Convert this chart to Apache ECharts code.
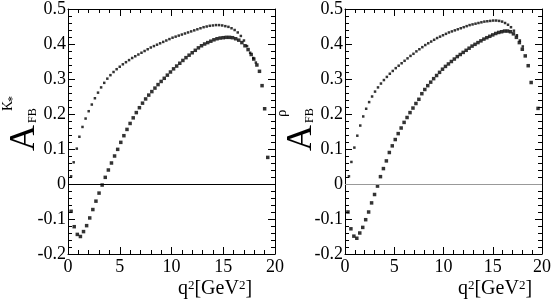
<!DOCTYPE html>
<html>
<head>
<meta charset="utf-8">
<script src="https://cdn.jsdelivr.net/npm/echarts@6/dist/echarts.min.js"></script>
<style>
  html, body { margin: 0; padding: 0; background: #fff; }
  #chart { width: 554px; height: 304px; }
</style>
</head>
<body>
<div id="chart"></div>
<script>
// K* panel, upper curve (small dots)
const kUpQ = [0.3, 0.55, 0.85, 1.1, 1.4, 1.7, 2.0, 2.3, 2.6, 2.9, 3.2, 3.5, 3.8, 4.1, 4.4, 4.7, 5.0, 5.3, 5.6, 5.9, 6.2, 6.5, 6.8, 7.1, 7.4, 7.7, 8.0, 8.3, 8.6, 8.9, 9.2, 9.5, 9.8, 10.1, 10.4, 10.7, 11.0, 11.3, 11.6, 11.9, 12.2, 12.5, 12.8, 13.1, 13.4, 13.7, 14.0, 14.3, 14.6, 14.9, 15.2, 15.5, 15.8, 16.1, 16.4, 16.7, 17.0, 17.3, 17.6, 17.9, 18.15];
const kUpA = [0.022, 0.062, 0.101, 0.135, 0.163, 0.187, 0.208, 0.227, 0.245, 0.261, 0.276, 0.289, 0.301, 0.311, 0.320, 0.328, 0.335, 0.342, 0.348, 0.354, 0.360, 0.365, 0.370, 0.375, 0.380, 0.385, 0.390, 0.394, 0.398, 0.402, 0.406, 0.410, 0.414, 0.418, 0.421, 0.424, 0.427, 0.430, 0.433, 0.436, 0.439, 0.442, 0.445, 0.448, 0.450, 0.452, 0.453, 0.454, 0.454, 0.453, 0.451, 0.449, 0.445, 0.440, 0.433, 0.423, 0.410, 0.394, 0.375, 0.360, 0.347];
// K* panel, lower curve (big dots)
const kLoQ = [0.3, 0.6, 0.9, 1.2, 1.5, 1.8, 2.1, 2.4, 2.7, 3.0, 3.3, 3.6, 3.9, 4.2, 4.5, 4.8, 5.1, 5.4, 5.7, 6.0, 6.3, 6.6, 6.9, 7.2, 7.5, 7.8, 8.1, 8.4, 8.7, 9.0, 9.3, 9.6, 9.9, 10.2, 10.5, 10.8, 11.1, 11.4, 11.7, 12.0, 12.3, 12.6, 12.9, 13.2, 13.5, 13.8, 14.1, 14.4, 14.7, 15.0, 15.3, 15.6, 15.9, 16.2, 16.5, 16.8, 17.1, 17.4, 17.7, 17.95, 18.25, 18.5, 18.75, 19.0, 19.3];
const kLoA = [-0.078, -0.122, -0.144, -0.150, -0.136, -0.119, -0.097, -0.073, -0.049, -0.026, -0.003, 0.019, 0.040, 0.060, 0.080, 0.099, 0.119, 0.138, 0.156, 0.173, 0.189, 0.204, 0.218, 0.231, 0.243, 0.254, 0.264, 0.274, 0.284, 0.293, 0.302, 0.311, 0.320, 0.329, 0.337, 0.345, 0.353, 0.361, 0.368, 0.375, 0.382, 0.389, 0.395, 0.400, 0.404, 0.408, 0.412, 0.415, 0.417, 0.418, 0.419, 0.419, 0.418, 0.415, 0.411, 0.404, 0.395, 0.384, 0.370, 0.357, 0.340, 0.322, 0.281, 0.215, 0.076];

// rho panel, upper curve
const rUpQ = [0.4, 0.65, 0.95, 1.25, 1.55, 1.85, 2.15, 2.45, 2.75, 3.05, 3.35, 3.65, 3.95, 4.25, 4.55, 4.85, 5.15, 5.45, 5.75, 6.05, 6.35, 6.65, 6.95, 7.25, 7.55, 7.85, 8.15, 8.45, 8.75, 9.05, 9.35, 9.65, 9.95, 10.25, 10.55, 10.85, 11.15, 11.45, 11.75, 12.05, 12.35, 12.65, 12.95, 13.25, 13.55, 13.85, 14.15, 14.45, 14.75, 15.05, 15.35, 15.65, 15.95, 16.25, 16.55, 16.85, 17.15, 17.45, 17.75, 18.05];
const rUpA = [0.022, 0.063, 0.104, 0.138, 0.167, 0.193, 0.215, 0.234, 0.250, 0.264, 0.276, 0.287, 0.297, 0.306, 0.315, 0.323, 0.331, 0.338, 0.345, 0.352, 0.359, 0.366, 0.372, 0.379, 0.385, 0.391, 0.397, 0.402, 0.407, 0.412, 0.417, 0.421, 0.425, 0.429, 0.433, 0.436, 0.439, 0.442, 0.445, 0.448, 0.451, 0.454, 0.456, 0.458, 0.460, 0.462, 0.464, 0.465, 0.466, 0.467, 0.467, 0.466, 0.464, 0.460, 0.455, 0.448, 0.438, 0.425, 0.410, 0.393];
// rho panel, lower curve
const rLoQ = [0.3, 0.6, 0.9, 1.2, 1.5, 1.8, 2.1, 2.4, 2.7, 3.0, 3.3, 3.6, 3.9, 4.2, 4.5, 4.8, 5.1, 5.4, 5.7, 6.0, 6.3, 6.6, 6.9, 7.2, 7.5, 7.8, 8.1, 8.4, 8.7, 9.0, 9.3, 9.6, 9.9, 10.2, 10.5, 10.8, 11.1, 11.4, 11.7, 12.0, 12.3, 12.6, 12.9, 13.2, 13.5, 13.8, 14.1, 14.4, 14.7, 15.0, 15.3, 15.6, 15.9, 16.2, 16.5, 16.8, 17.1, 17.4, 17.7, 18.0, 18.3, 18.6, 18.9, 19.6];
const rLoA = [-0.080, -0.128, -0.149, -0.155, -0.140, -0.124, -0.102, -0.080, -0.054, -0.030, -0.006, 0.021, 0.044, 0.066, 0.090, 0.109, 0.127, 0.144, 0.160, 0.176, 0.190, 0.204, 0.217, 0.230, 0.242, 0.258, 0.270, 0.281, 0.291, 0.301, 0.310, 0.319, 0.328, 0.336, 0.343, 0.350, 0.357, 0.364, 0.370, 0.376, 0.382, 0.388, 0.394, 0.399, 0.404, 0.409, 0.414, 0.418, 0.422, 0.426, 0.430, 0.433, 0.435, 0.437, 0.437, 0.435, 0.429, 0.419, 0.404, 0.385, 0.366, 0.338, 0.290, 0.216];

const xTicks = [0, 20, 5];       // min, max, step
const yTicks = [-0.2, 0.5, 0.1];

const serif = '"Liberation Serif", "DejaVu Serif", serif';

const zip = (xs, ys) => xs.map((x, i) => [x, ys[i]]);

// 两个面板的网格位置
const panels = [
    { left: 68, zero: '#000' },
    { left: 345, zero: '#999' }
];

const grid = panels.map(p => ({ left: p.left, top: 8, width: 207, height: 246 }));

// 每个轴单独生成一份配置,避免共享对象
const tickCommon = () => ({
    axisLine: { show: true, onZero: false, lineStyle: { color: '#000', width: 1 } },
    axisTick: { show: true, inside: true, length: 7, lineStyle: { color: '#000', width: 1 } },
    minorTick: { show: true, splitNumber: 5, length: 4, lineStyle: { color: '#000', width: 1 } },
    splitLine: { show: false },
    minorSplitLine: { show: false }
});

const xAxis = [];
const yAxis = [];
panels.forEach((p, i) => {
    ['bottom', 'top'].forEach(pos => {
        xAxis.push({
            type: 'value', gridIndex: i, position: pos,
            min: xTicks[0], max: xTicks[1], interval: xTicks[2],
            ...tickCommon(),
            axisLabel: pos === 'bottom'
                ? { show: true, margin: 4, color: '#000', fontFamily: serif, fontSize: 18 }
                : { show: false }
        });
    });
    ['left', 'right'].forEach(pos => {
        yAxis.push({
            type: 'value', gridIndex: i, position: pos,
            min: yTicks[0], max: yTicks[1], interval: yTicks[2],
            ...tickCommon(),
            axisLabel: pos === 'left'
                ? { show: true, margin: 2, color: '#000', fontFamily: serif, fontSize: 18 }
                : { show: false }
        });
    });
});

const dots = (data, i, size, extra) => ({
    type: 'scatter',
    xAxisIndex: i * 2,
    yAxisIndex: i * 2,
    data,
    symbol: 'rect',
    symbolSize: size,
    itemStyle: { color: '#000' },
    silent: true,
    animation: false,
    ...extra
});

const zeroLine = color => ({
    silent: true,
    symbol: 'none',
    label: { show: false },
    lineStyle: { color, width: 1.2, type: 'solid' },
    data: [{ yAxis: 0 }]
});

const series = [
    dots(zip(kUpQ, kUpA), 0, 2.5),
    dots(zip(kLoQ, kLoA), 0, 3.5, { markLine: zeroLine(panels[0].zero) }),
    dots(zip(rUpQ, rUpA), 1, 2.5),
    dots(zip(rLoQ, rLoA), 1, 3.5, { markLine: zeroLine(panels[1].zero) })
];

// y轴标题 A_FB^K* / A_FB^rho (旋转文字)
const rotText = (text, x, y, size) => ({
    type: 'text',
    x, y,
    rotation: Math.PI / 2,
    style: {
        text,
        font: size + 'px ' + serif,
        fill: '#000',
        textAlign: 'left',
        textVerticalAlign: 'middle'
    }
});

// x轴标题 q^2[GeV^2]
const xName = (x) => ({
    type: 'text',
    x, y: 289,
    style: {
        text: 'q{s|2}[GeV{s|2}]',
        font: '20px ' + serif,
        fill: '#000',
        textAlign: 'center',
        textVerticalAlign: 'middle',
        rich: {
            n: { font: '20px ' + serif, fill: '#000' },
            s: { font: '13px ' + serif, fill: '#000', verticalAlign: 'top', lineHeight: 14 }
        }
    }
});

const graphic = [
    rotText('A', 25, 151, 36),
    rotText('FB', 32.5, 123, 12),
    rotText('K', 8, 111, 14),
    rotText('*', 13, 102, 12),
    rotText('A', 302, 151, 36),
    rotText('FB', 309.5, 123, 12),
    rotText('ρ', 282, 117, 15),
    xName(215),
    xName(495)
];

const myChart = echarts.init(document.getElementById('chart'));
myChart.setOption({
    animation: false,
    grid,
    xAxis,
    yAxis,
    series,
    graphic
});
</script>
</body>
</html>
